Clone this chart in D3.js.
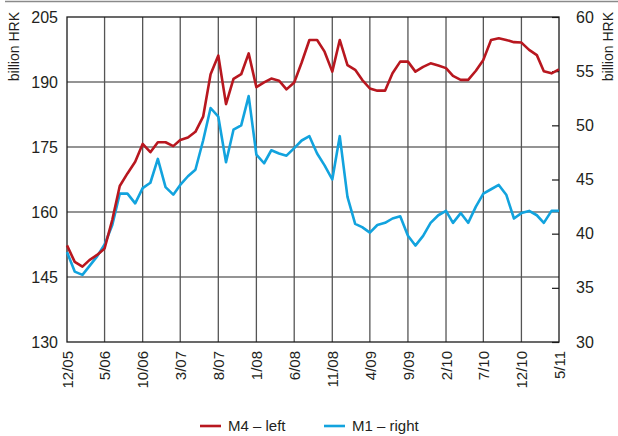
<!DOCTYPE html>
<html>
<head>
<meta charset="utf-8">
<script src="https://cdn.jsdelivr.net/npm/d3@7"></script>
<style>
  html, body { margin: 0; padding: 0; background: #fff; }
  svg { display: block; }
  text { font-family: "Liberation Sans Narrow", "Arial Narrow", "Liberation Sans", Arial, sans-serif; fill: #231f20; }
</style>
</head>
<body>
<svg id="chart" width="618" height="436"></svg>
<script>
// ---- data ----
const startMonth = "2005-12";   // first observation (12/05), monthly to 5/11
const m4Left = [152.3,148.5,147.4,148.9,150.1,151.6,158.2,166.0,168.9,171.6,175.7,173.8,176.1,176.1,175.2,176.6,
  177.2,178.5,182.0,191.8,196.1,184.9,190.7,191.8,196.6,188.8,189.9,190.8,190.3,188.3,189.9,194.5,
  199.7,199.7,197.0,192.4,199.7,193.9,192.8,190.5,188.5,188.0,188.0,192.0,194.7,194.7,192.4,193.5,
  194.3,193.8,193.2,191.4,190.5,190.5,192.6,195.1,199.7,200.1,199.7,199.2,199.1,197.4,196.2,192.5,
  192.0,192.9];
const m1Right = [38.3,36.5,36.2,37.0,37.9,39.0,40.8,43.7,43.7,42.8,44.2,44.7,46.9,44.3,43.6,44.5,
  45.3,45.9,48.6,51.6,50.8,46.6,49.6,50.0,52.7,47.3,46.5,47.7,47.4,47.2,47.9,48.6,
  49.0,47.4,46.3,45.0,49.0,43.4,40.9,40.6,40.1,40.8,41.0,41.4,41.6,39.8,38.9,39.8,
  41.0,41.7,42.1,41.0,41.9,41.0,42.5,43.7,44.1,44.5,43.6,41.4,41.9,42.1,41.7,41.0,
  42.1,42.1];
const xTickLabels = ["12/05","5/06","10/06","3/07","8/07","1/08","6/08","11/08","4/09","9/09","2/10","7/10","12/10","5/11"];
const leftTicks = [130,145,160,175,190,205];
const rightTicks = [30,35,40,45,50,55,60];
const seriesNames = ["M4 – left","M1 – right"];
const axisTitle = "billion HRK";

// ---- layout ----
const svg = d3.select("#chart");
const L = 67, R = 559, T = 17, B = 342;
const red = "#b8171f", blue = "#12a3de";

const parse = d3.timeParse("%Y-%m");
const t0 = parse(startMonth);
const dates = m4Left.map((_, i) => d3.timeMonth.offset(t0, i));
const tickDates = xTickLabels.map(s => { const [m, y] = s.split("/"); return new Date(2000 + +y, +m - 1, 1); });

const x = d3.scaleTime().domain([dates[0], dates[dates.length - 1]]).range([L, R]);
const yL = d3.scaleLinear().domain([130, 205]).range([B, T]);
const yR = d3.scaleLinear().domain([30, 60]).range([B, T]);

// top rule
svg.append("line").attr("x1", 5).attr("x2", 618).attr("y1", 1.5).attr("y2", 1.5)
  .attr("stroke", "#8a8a8a").attr("stroke-width", 1.5);

// horizontal gridlines
svg.append("g").selectAll("line").data(leftTicks.filter(v => v > 130 && v < 205)).join("line")
  .attr("x1", L).attr("x2", R).attr("y1", d => yL(d)).attr("y2", d => yL(d))
  .attr("stroke", "#707070").attr("stroke-width", 1.6);

// vertical gridlines
svg.append("g").selectAll("line").data(tickDates.slice(1, -1)).join("line")
  .attr("x1", d => x(d)).attr("x2", d => x(d)).attr("y1", T).attr("y2", B)
  .attr("stroke", "#555").attr("stroke-width", 1.3);

// frame
svg.append("rect").attr("x", L).attr("y", T).attr("width", R - L).attr("height", B - T)
  .attr("fill", "none").attr("stroke", "#1a1a1a").attr("stroke-width", 1.3);

// left axis
const gL = svg.append("g").attr("transform", `translate(${L},0)`)
  .call(d3.axisLeft(yL).tickValues(leftTicks).tickSize(0).tickPadding(9));
gL.select(".domain").remove();
gL.selectAll("text").style("font-size", "16px").attr("font-family", null);

// right axis
const gR = svg.append("g").attr("transform", `translate(${R},0)`)
  .call(d3.axisRight(yR).tickValues(rightTicks).tickSizeInner(-7).tickSizeOuter(0).tickPadding(17));
gR.select(".domain").remove();
gR.selectAll("line").attr("stroke", "#1a1a1a").attr("stroke-width", 1.2);
gR.selectAll("text").style("font-size", "16px").attr("font-family", null);

// bottom axis
const gB = svg.append("g").attr("transform", `translate(0,${B})`)
  .call(d3.axisBottom(x).tickValues(tickDates).tickSize(0).tickFormat((d, i) => xTickLabels[i]));
gB.select(".domain").remove();
gB.selectAll("text").style("font-size", "15px").attr("font-family", null)
  .attr("transform", "rotate(-90)").attr("text-anchor", "end")
  .attr("x", -9).attr("y", 0).attr("dy", "0.35em");

// axis titles
svg.append("text").attr("transform", "translate(19,12) rotate(-90)")
  .attr("text-anchor", "end").style("font-size", "14px").text(axisTitle);
svg.append("text").attr("transform", "translate(613,12) rotate(-90)")
  .attr("text-anchor", "end").style("font-size", "14px").text(axisTitle);

// lines
const lineL = d3.line().x((d, i) => x(dates[i])).y(d => yL(d));
const lineR = d3.line().x((d, i) => x(dates[i])).y(d => yR(d));
svg.append("path").datum(m1Right).attr("d", lineR).attr("fill", "none")
  .attr("stroke", blue).attr("stroke-width", 2.6).attr("stroke-linejoin", "round");
svg.append("path").datum(m4Left).attr("d", lineL).attr("fill", "none")
  .attr("stroke", red).attr("stroke-width", 2.6).attr("stroke-linejoin", "round");

// legend
const legend = [{name: seriesNames[0], color: red, x: 200}, {name: seriesNames[1], color: blue, x: 324}];
const lg = svg.append("g").selectAll("g").data(legend).join("g")
  .attr("transform", d => `translate(${d.x},426)`);
lg.append("line").attr("x1", 0).attr("x2", 21).attr("y1", 0).attr("y2", 0)
  .attr("stroke", d => d.color).attr("stroke-width", 2.6);
lg.append("text").attr("x", 28).attr("y", 0).attr("dy", "0.35em")
  .style("font-size", "15px").text(d => d.name);
</script>
</body>
</html>
